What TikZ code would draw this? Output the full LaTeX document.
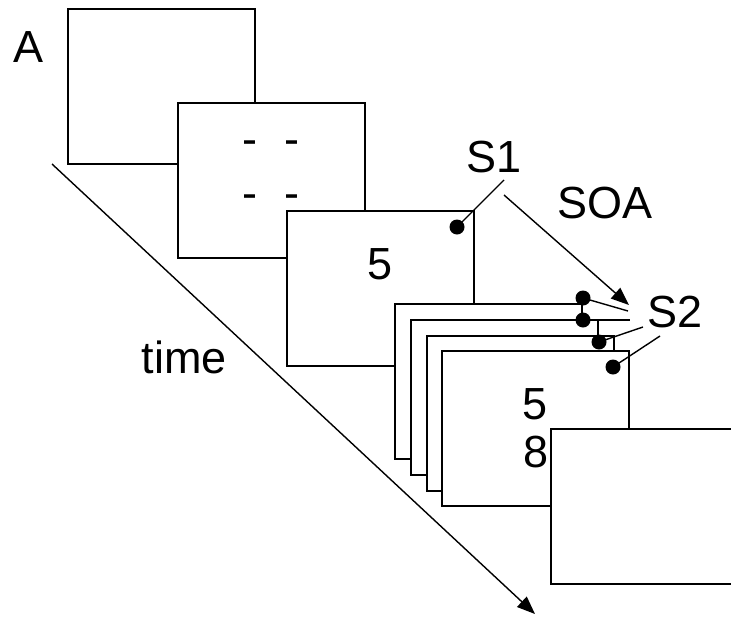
\documentclass[tikz,border=0pt]{standalone}
\usepackage{fontspec}
\setmainfont{Liberation Sans}
\usetikzlibrary{arrows.meta,positioning}
\tikzset{frame/.style={draw, fill=white, line width=1.8pt, anchor=north west, minimum width=187pt, minimum height=155pt, inner sep=0pt, outer sep=0pt}, dot/.style={circle, fill=black, inner sep=0pt, minimum size=15pt}, lab/.style={font=\fontsize{45}{54}\selectfont, inner sep=0pt, anchor=base}, ptr/.style={line width=1.4pt}, arr/.style={-{Triangle[length=18pt,width=14pt]}, line width=1.4pt}}

\begin{document}
\begin{tikzpicture}[x=1pt,y=-1pt]
\useasboundingbox (0,0) rectangle (731,616);
\node[frame] (f1) at (68,9) {};
\node[frame] (f2) at (178,103) {};
\node[lab] (dashtop) at (270.5,154) {-\hspace{0.6em}-}; \node[lab] (dashbot) at (270.5,208) {-\hspace{0.6em}-};
\node[frame] (f3) at (287,211) {}; \node[lab] (fivea) at (380,279) {5};
\node[frame] (fa) at (395,304) {}; \node[frame] (fb) at (411,320) {}; \node[frame] (fc) at (427,336) {}; \node[frame] (fd) at (442,351) {};
\node[lab] (fiveb) at (535.5,419) {5}; \node[lab] (eight) at (536,467) {8};
\node[frame] (f5) at (551,429) {};
\node[lab] (A) at (29,62) {A}; \node[lab] (time) at (184.5,373) {time};
\node[lab] (S1) at (494.5,172) {S1}; \node[lab] (SOA) at (605,218) {SOA}; \node[lab] (S2) at (675,327) {S2};
% stimulus markers
\node[dot] (m1) at (457,227) {};
\node[dot] (m2a) at (583,298) {}; \node[dot] (m2b) at (583,320) {}; \node[dot] (m2c) at (599,342) {}; \node[dot] (m2d) at (613,367) {};
\coordinate (s1end) at (504,180); \coordinate (soastart) at (504,195); \coordinate (soaend) at (629,305);
\coordinate (s2a) at (628,311); \coordinate (s2b) at (630,320); \coordinate (s2c) at (643,327); \coordinate (s2d) at (660,336);
\coordinate (tstart) at (52,164); \coordinate (tend) at (535,614);
\draw[ptr] (m1.center)--(s1end);
\draw[arr] (soastart)--(soaend);
\draw[ptr] (m2a.center)--(s2a); \draw[ptr] (m2b.center)--(s2b); \draw[ptr] (m2c.center)--(s2c); \draw[ptr] (m2d.center)--(s2d);
\draw[arr] (tstart)--(tend);
\end{tikzpicture}
\end{document}
